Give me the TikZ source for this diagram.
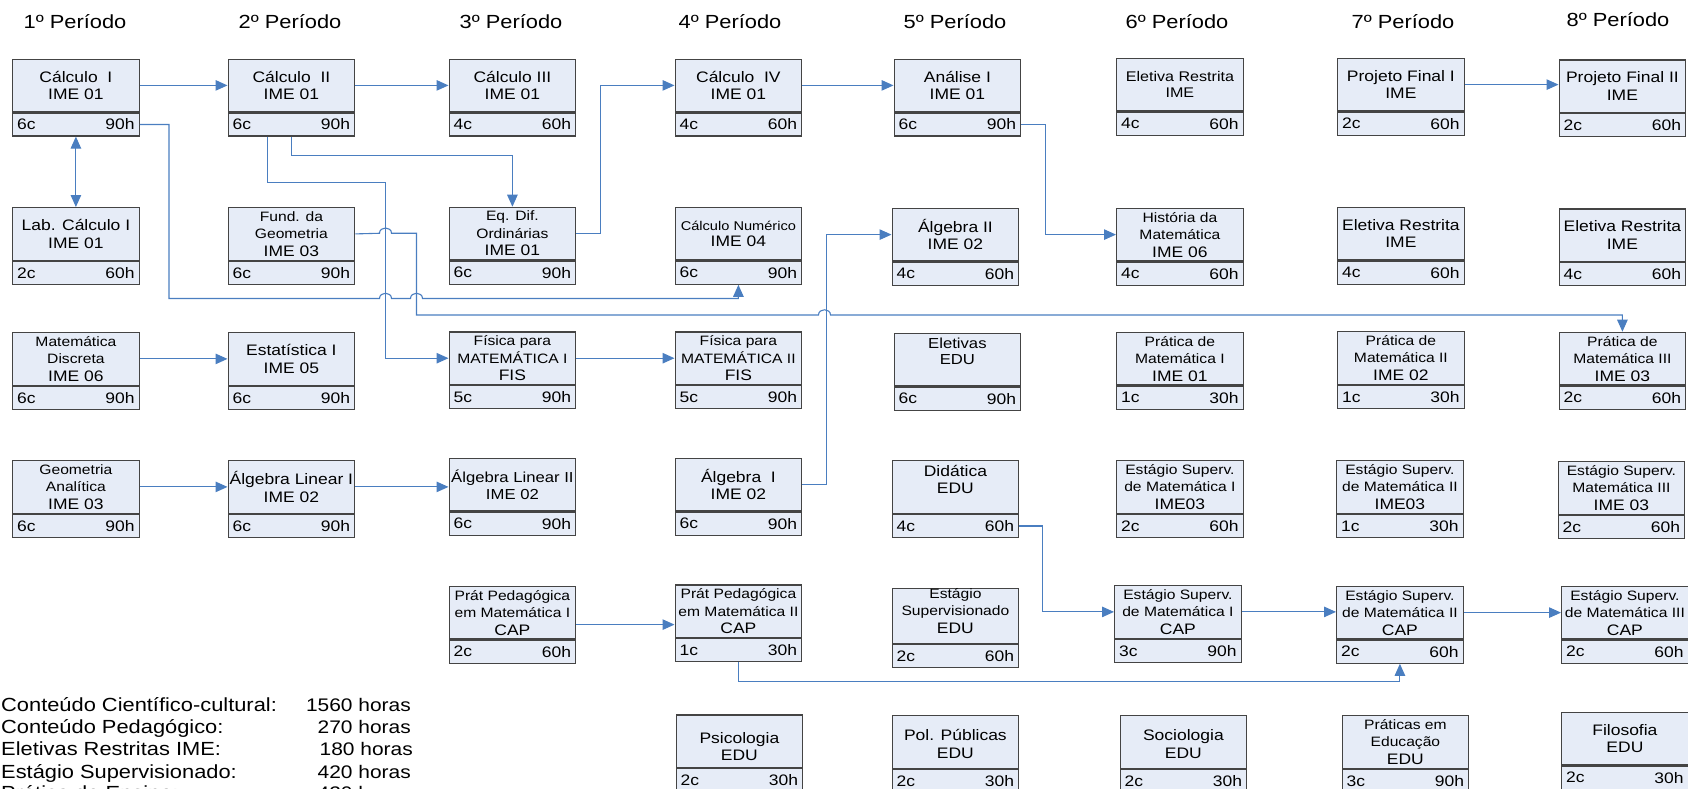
\documentclass[tikz,border=0pt]{standalone}
\usepackage{fontspec}
\setmainfont{Liberation Sans}[FakeStretch=1.15]
\usetikzlibrary{arrows.meta}
\definecolor{boxfill}{RGB}{230,236,247}
\definecolor{boxline}{RGB}{68,68,68}
\definecolor{conncol}{RGB}{74,126,192}
\newcommand{\fsz}[2]{\fontsize{#1pt}{#2pt}\selectfont}
\newcommand{\lsm}{\fsz{13.6}{15.6}}
\newcommand{\lnm}{\fsz{15.2}{15.6}}
\tikzset{
  topbox/.style={draw=boxline, fill=boxfill, line width=1.3pt, minimum width=126.5pt,
    minimum height=52.5pt, inner sep=0pt, align=center, anchor=north west, font=\fsz{15.2}{17.5}},
  botbox/.style={draw=boxline, fill=boxfill, line width=1.3pt, minimum width=126.5pt,
    minimum height=23pt, inner sep=0pt, anchor=north},
  cell/.style={inner sep=0pt, font=\fsz{15.2}{17.5}},
  titletext/.style={font=\fsz{19}{22}, inner sep=0pt},
  foot/.style={font=\fsz{19}{21}, inner sep=0pt},
  footnum/.style={font=\fsz{18.2}{21}, inner sep=0pt},
  connline/.style={draw=conncol, line width=1.1pt},
  arr/.style={connline, -{Triangle[length=12pt,width=10.5pt]}},
  arrboth/.style={connline, {Triangle[length=12pt,width=10.5pt]}-{Triangle[length=12pt,width=10.5pt]}},
}
% course box: [style] name, position, text, credits, hours
\newcommand{\crs}[6][]{%
  \node[topbox,#1] (#2) at (#3) {#4};
  \node[botbox] (#2b) at (#2.south) {};
  \node[cell,anchor=west] (#2c) at ([xshift=5pt]#2b.west) {#5};
  \node[cell,anchor=east] (#2h) at ([xshift=-5pt]#2b.east) {#6};
}
\begin{document}
\begin{tikzpicture}[x=1pt,y=-1pt]
\useasboundingbox (0,0) rectangle (1688,788);

% titles
\node[titletext] (t1) at (75,21.5) {1º Período};
\node[titletext] (t2) at (290,21.5) {2º Período};
\node[titletext] (t3) at (511,21.5) {3º Período};
\node[titletext] (t4) at (730,21.5) {4º Período};
\node[titletext] (t5) at (955,21.5) {5º Período};
\node[titletext] (t6) at (1177,21.5) {6º Período};
\node[titletext] (t7) at (1403,21.5) {7º Período};
\node[titletext] (t8) at (1618,20) {8º Período};

% row 1
\crs{calc1}{12,58.5}{Cálculo~~I\\IME 01}{6c}{90h}
\crs{calc2}{227.5,58.5}{Cálculo~~II\\IME 01}{6c}{90h}
\crs{calc3}{448.5,58.5}{Cálculo III\\IME 01}{4c}{60h}
\crs{calc4}{674.5,58.5}{Cálculo~~IV\\IME 01}{4c}{60h}
\crs{anal}{893.5,58.5}{Análise I\\IME 01}{6c}{90h}
\crs[font=\fsz{14}{16}]{eletA}{1116,57.7}{Eletiva Restrita\\IME}{4c}{60h}
\crs{pfA}{1337,57.7}{Projeto Final I\\IME}{2c}{60h}
\crs{pfB}{1558.5,59.3}{Projeto Final II\\IME}{2c}{60h}

% row 2
\crs{lab}{12,207}{Lab. Cálculo I\\IME 01}{2c}{60h}
\crs{fund}{227.5,207}{\lsm Fund. da\\\lsm Geometria\\\lnm IME 03}{6c}{90h}
\crs{eq}{448.5,206.7}{\lsm Eq. Dif.\\\lsm Ordinárias\\\lnm IME 01}{6c}{90h}
\crs[font=\fsz{15.2}{16}]{cnum}{674.5,206.7}{\fsz{12.7}{16}Cálculo Numérico\\\fsz{15.2}{16}IME 04}{6c}{90h}
\crs{algB}{891.5,207.7}{Álgebra II\\IME 02}{4c}{60h}
\crs{hist}{1116,207.7}{\lsm História da\\\lsm Matemática\\\lnm IME 06}{4c}{60h}
\crs{eletB}{1337,206.7}{Eletiva Restrita\\IME}{4c}{60h}
\crs{eletC}{1558.5,208.3}{Eletiva Restrita\\IME}{4c}{60h}

% row 3
\crs{md}{12,332}{\lsm Matemática\\\lsm Discreta\\\lnm IME 06}{6c}{90h}
\crs{est}{227.5,332}{Estatística I\\IME 05}{6c}{90h}
\crs{fisA}{448.5,331.3}{\lsm Física para\\\lsm MATEMÁTICA I\\\lnm FIS}{5c}{90h}
\crs{fisB}{674.5,331.3}{\lsm Física para\\\lsm MATEMÁTICA II\\\lnm FIS}{5c}{90h}
\crs[font=\fsz{14.5}{16},text depth=16pt]{eletEdu}{893.5,332.7}{Eletivas\\EDU}{6c}{90h}
\crs{pmA}{1116,331.7}{\lsm Prática de\\\lsm Matemática I\\\lnm IME 01}{1c}{30h}
\crs{pmB}{1337,331}{\lsm Prática de\\\lsm Matemática II\\\lnm IME 02}{1c}{30h}
\crs{pmC}{1558.5,331.7}{\lsm Prática de\\\lsm Matemática III\\\lnm IME 03}{2c}{60h}

% row 4
\crs{ga}{12,460}{\lsm Geometria\\\lsm Analítica\\\lnm IME 03}{6c}{90h}
\crs{alA}{227.5,460}{Álgebra Linear I\\IME 02}{6c}{90h}
\crs[font=\fsz{14.5}{17}]{alB}{448.5,457.7}{Álgebra Linear II\\IME 02}{6c}{90h}
\crs{algA}{674.5,457.7}{Álgebra~~I\\IME 02}{6c}{90h}
\crs[text depth=15pt]{did}{891.5,460}{Didática\\EDU}{4c}{60h}
\crs{esA}{1116,460}{\lsm Estágio Superv.\\\lsm de Matemática I\\\lnm IME03}{2c}{60h}
\crs{esB}{1336,460}{\lsm Estágio Superv.\\\lsm de Matemática II\\\lnm IME03}{1c}{30h}
\crs{esC}{1557.5,461}{\lsm Estágio Superv.\\\lsm Matemática III\\\lnm IME 03}{2c}{60h}

% row 5
\crs{ppA}{448.5,585.7}{\lsm Prát Pedagógica\\\lsm em Matemática I\\\lnm CAP}{2c}{60h}
\crs{ppB}{674.5,584.3}{\lsm Prát Pedagógica\\\lsm em Matemática II\\\lnm CAP}{1c}{30h}
\crs[text depth=10pt]{estEdu}{891.5,587.7}{\lsm Estágio\\\lsm Supervisionado\\\lnm EDU}{2c}{60h}
\crs{ecA}{1114,585}{\lsm Estágio Superv.\\\lsm de Matemática I\\\lnm CAP}{3c}{90h}
\crs{ecB}{1336,585.7}{\lsm Estágio Superv.\\\lsm de Matemática II\\\lnm CAP}{2c}{60h}
\crs{ecC}{1561,585.7}{\lsm Estágio Superv.\\\lsm de Matemática III\\\lnm CAP}{2c}{60h}

% row 6
\crs[text height=39.5pt]{psi}{675.5,714.3}{Psicologia\\EDU}{2c}{30h}
\crs[text height=33pt]{pol}{891.5,715}{Pol. Públicas\\EDU}{2c}{30h}
\crs[text height=33pt]{soc}{1119.5,715}{Sociologia\\EDU}{2c}{30h}
\crs{pedu}{1341.5,715}{\lsm Práticas em\\\lsm Educação\\\lnm EDU}{3c}{90h}
\crs{fil}{1561,711.7}{Filosofia\\EDU}{2c}{30h}

% connectors
\draw[arr] (calc1.east) -- (calc1.east -| calc2.west);
\draw[arr] (calc2.east) -- (calc2.east -| calc3.west);
\draw[arr] (calc4.east) -- (calc4.east -| anal.west);
\draw[arr] (pfA.east) -- (pfA.east -| pfB.west);
\draw[arrboth] (calc1b.south) -- (lab.north);

\draw[arr] (calc1b.east) -| (169,298.5) -- (379.5,298.5)
  .. controls (379.5,291.5) and (391.5,291.5) .. (391.5,298.5) -- (410.5,298.5)
  .. controls (410.5,291.5) and (422.5,291.5) .. (422.5,298.5) -| (cnumb.south);
\draw[arr] ([xshift=-24pt]calc2b.south) |- (385.5,182.5) |- (fisA.west);
\draw[arr] (calc2b.south) -- ++(0,19.25) -| (eq.north);
\draw[arr] (fund.east) -- (379.5,233.25)
  .. controls (379.5,226.25) and (391.5,226.25) .. (391.5,233.25) -| (416.5,315) -- (818.5,315)
  .. controls (818.5,308) and (830.5,308) .. (830.5,315) -| (pmC.north);
\draw[arr] (eq.east) -- ++(24.5,0) |- (calc4.west);
\draw[arr] (analb.east) -- ++(24,0) |- (hist.west);
\draw[arr] (md.east) -- (md.east -| est.west);
\draw[arr] (ga.east) -- (ga.east -| alA.west);
\draw[arr] (alA.east) -- (alA.east -| alB.west);
\draw[arr] (fisA.east) -- (fisA.east -| fisB.west);
\draw[arr] (algA.east) -- ++(24,0) |- (algB.west);
\coordinate (ppout) at ([yshift=-12pt]ppA.east);
\draw[arr] (ppout) -- (ppout -| ppB.west);
\draw[arr] (ppBb.south) -- ++(0,19) -| (ecBb.south);
\draw[arr] (didb.east) -- ++(23.3,0) |- (ecA.west);
\draw[arr] (ecA.east) -- (ecA.east -| ecB.west);
\draw[arr] (ecB.east) -- (ecB.east -| ecC.west);

% footnote
\node[foot,anchor=base west] (fa) at (1,711.5) {Conteúdo Científico-cultural:};
\node[footnum,anchor=base east] (fan) at (411,711.5) {1560 horas};
\node[foot,anchor=base west] (fb) at (1,733.7) {Conteúdo Pedagógico:};
\node[footnum,anchor=base east] (fbn) at (411,733.7) {270 horas};
\node[foot,anchor=base west] (fc) at (1,755.9) {Eletivas Restritas IME:};
\node[footnum,anchor=base east] (fcn) at (413,755.9) {180 horas};
\node[foot,anchor=base west] (fd) at (1,778.1) {Estágio Supervisionado:};
\node[footnum,anchor=base east] (fdn) at (411,778.1) {420 horas};
\node[foot,anchor=base west] (fe) at (1,799.3) {Prática de Ensino:};
\node[footnum,anchor=base east] (fen) at (411,799.3) {420 horas};
\end{tikzpicture}
\end{document}
